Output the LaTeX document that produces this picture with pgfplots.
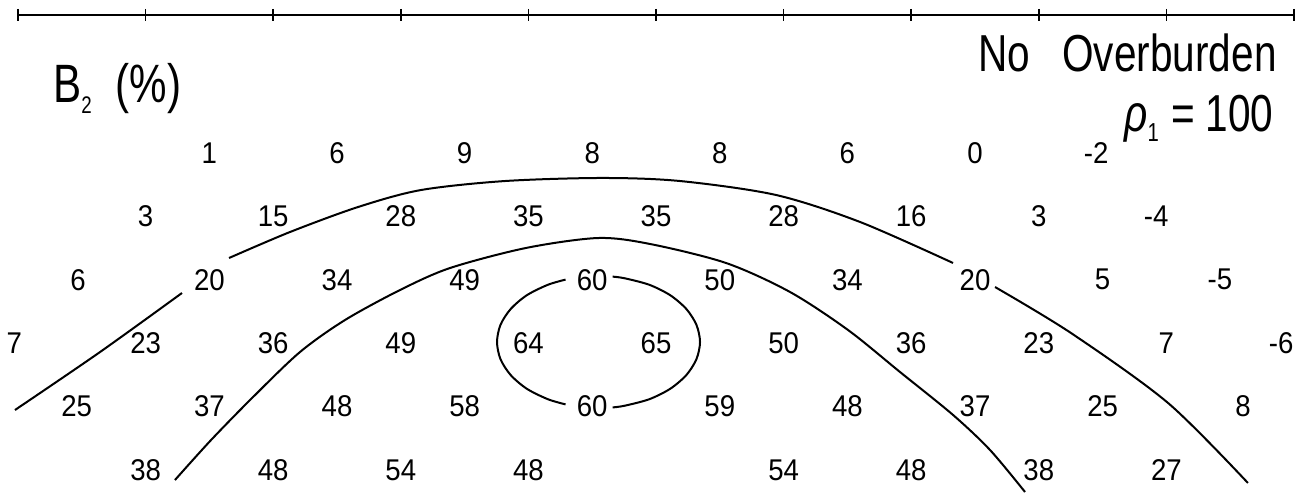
\documentclass[border=0pt]{standalone}
\usepackage{pgfplots}
\pgfplotsset{compat=1.18}
\usepackage{pgfplotstable}
\usepackage{fontspec}
\setmainfont{Liberation Sans}[FakeStretch=0.85]
\newfontfamily\labfont{Liberation Sans}[FakeStretch=0.92]
\newfontfamily\headfont{Liberation Sans}[FakeStretch=0.78]

% apparent B2 values of the pseudosection: x = station, y = separation n
\pgfplotstableread{
x     n   lab
1.5   1   1
2.5   1   6
3.5   1   9
4.5   1   8
5.5   1   8
6.5   1   6
7.5   1   0
8.45  1   -2
1     2   3
2     2   15
3     2   28
4     2   35
5     2   35
6     2   28
7     2   16
8     2   3
8.92  2   -4
0.47  3   6
1.5   3   20
2.5   3   34
3.5   3   49
4.5   3   60
5.5   3   50
6.5   3   34
7.5   3   20
8.5   3   5
9.42  3   -5
-0.03 4   7
1     4   23
2     4   36
3     4   49
4     4   64
5     4   65
6     4   50
7     4   36
8     4   23
9     4   7
9.9   4   -6
0.46  5   25
1.5   5   37
2.5   5   48
3.5   5   58
4.5   5   60
5.5   5   59
6.5   5   48
7.5   5   37
8.5   5   25
9.6   5   8
1     6   38
2     6   48
3     6   54
4     6   48
6     6   54
7     6   48
8     6   38
9     6   27
}\bvalues

\begin{document}
\begin{tikzpicture}
\begin{axis}[
  scale only axis,
  width=653.5bp, height=246.5bp,
  xmin=-0.1411, xmax=10.1019,
  ymin=-1.4132, ymax=6.3628,
  y dir=reverse,
  hide axis,
  clip=false,
]
% station line with a tick at every electrode
\addplot[black, line width=0.9bp] coordinates {(0,-1.177) (10,-1.177)};
\addplot[draw=none, mark=|, mark size=3bp, mark options={line width=0.8bp, black}]
  coordinates {(0,-1.177) (1,-1.177) (2,-1.177) (3,-1.177) (4,-1.177) (5,-1.177)
               (6,-1.177) (7,-1.177) (8,-1.177) (9,-1.177) (10,-1.177)};

% values
\addplot[draw=none, nodes near coords, point meta=explicit symbolic,
  nodes near coords align={center},
  every node near coord/.append style={anchor=center, inner sep=0pt,
    font=\labfont\fontsize{15bp}{17bp}\selectfont}]
  table[x=x, y=n, meta=lab] {\bvalues};

% 20 % contour
\addplot[black, line width=1bp, smooth] coordinates {
  (-0.024,5.054) (0.643,4.139) (1.285,3.208)};
\addplot[black, line width=1bp, smooth] coordinates {
  (1.654,2.656) (2.132,2.246) (2.665,1.852) (3.158,1.584) (3.817,1.442)
  (4.577,1.394) (5.188,1.442) (5.940,1.662) (6.599,2.088) (7.328,2.735)};
\addplot[black, line width=1bp, smooth] coordinates {
  (7.657,3.114) (8.252,3.839) (9.013,4.943) (9.639,6.205)};

% 40 % contour
\addplot[black, line width=1bp, smooth] coordinates {
  (1.230,6.158) (1.513,5.527) (1.842,4.849) (2.210,4.139) (2.563,3.634)
  (2.994,3.161) (3.386,2.814) (3.981,2.498) (4.545,2.341) (4.953,2.435)
  (5.549,2.735) (6.050,3.192) (6.505,3.792) (6.912,4.454) (7.328,5.132)
  (7.618,5.685) (7.892,6.347)};

% 60 % contour, broken at its two labels
\addplot[black, line width=1bp, smooth] coordinates {
  (4.291,2.997) (4.152,3.079) (3.987,3.244) (3.861,3.461) (3.781,3.711)
  (3.754,3.981) (3.781,4.251) (3.861,4.502) (3.987,4.718) (4.152,4.883)
  (4.291,4.965)};
\addplot[black, line width=1bp, smooth] coordinates {
  (4.660,5.013) (4.755,4.986) (4.948,4.883) (5.112,4.718) (5.238,4.502)
  (5.317,4.251) (5.345,3.981) (5.317,3.711) (5.238,3.461) (5.112,3.244)
  (4.948,3.079) (4.755,2.976) (4.660,2.950)};

% headings
\node[anchor=base west, inner sep=0pt, font=\headfont\fontsize{27bp}{30bp}\selectfont]
  at (axis cs:0.274,0.197) {B\raisebox{-5.5bp}{\fontsize{12bp}{14bp}\selectfont 2}\hspace{12bp}(\%)};
\node[anchor=base east, inner sep=0pt, font=\headfont\fontsize{26bp}{30bp}\selectfont]
  at (axis cs:9.867,-0.278) {No\hspace{16bp}Overburden};
\node[anchor=base east, inner sep=0pt, font=\headfont\fontsize{26bp}{30bp}\selectfont]
  at (axis cs:9.843,0.66) {{\itshape ρ}\raisebox{-5bp}{\fontsize{13bp}{15bp}\selectfont 1}\hspace{0.25em}=\hspace{0.2em}100};
\end{axis}
\pgfresetboundingbox
\path[use as bounding box] (current axis.south west) rectangle (current axis.north east);
\end{tikzpicture}
\end{document}
